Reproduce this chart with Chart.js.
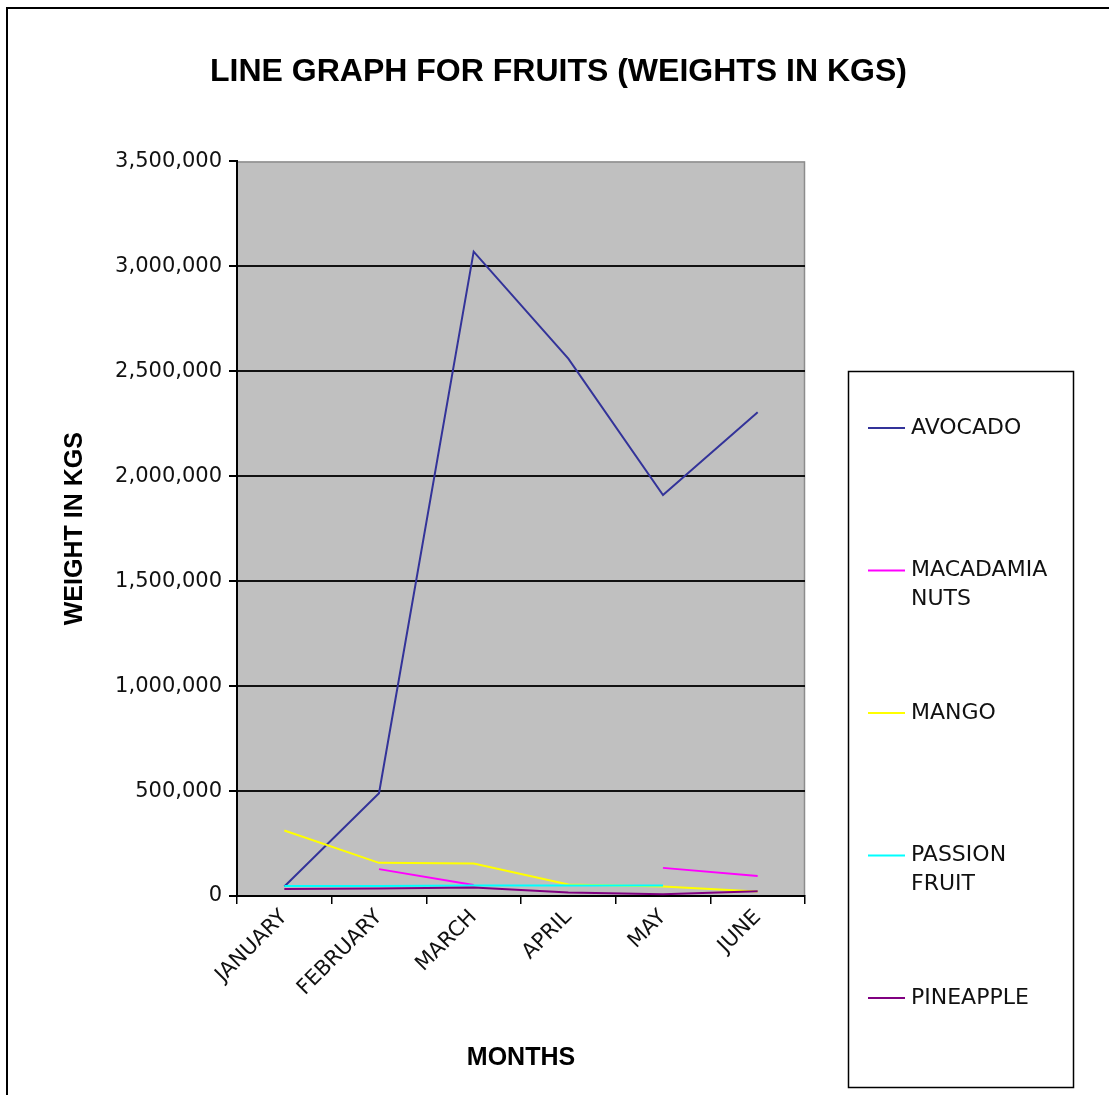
<!DOCTYPE html>
<html>
<head>
<meta charset="utf-8">
<title>Line graph for fruits</title>
<script src="https://cdn.jsdelivr.net/npm/chart.js@4/dist/chart.umd.min.js"></script>
<style>
  html, body { margin: 0; padding: 0; background: #fff; }
  #frame {
    position: absolute; left: 6px; top: 7px; right: -10px; bottom: -10px;
    border-left: 2px solid #000; border-top: 2px solid #000;
  }
  #chart { position: absolute; left: 0; top: 0; }
</style>
</head>
<body>
<div id="frame"></div>
<canvas id="chart" width="1109" height="1095"></canvas>
<script>
var months = ['JANUARY', 'FEBRUARY', 'MARCH', 'APRIL', 'MAY', 'JUNE'];

var avocado    = [45000, 490000, 3070000, 2560000, 1910000, 2305000];
var macadamia  = [null, 128000, 52000, null, 134000, 95000];
var mango      = [312000, 158000, 155000, 55000, 45000, 22000];
var passion    = [48000, 48000, 50000, 50000, 50000, null];
var pineapple  = [33000, 36000, 40000, 17000, 8000, 23000];

var seriesNames  = ['AVOCADO', 'MACADAMIA NUTS', 'MANGO', 'PASSION FRUIT', 'PINEAPPLE'];
var seriesValues = [avocado, macadamia, mango, passion, pineapple];
var seriesColors = ['#333399', '#ff00ff', '#ffff00', '#00ffff', '#800080'];

var yMax = 3500000;

var datasets = [];
for (var i = 0; i < seriesNames.length; i++) {
    datasets.push({
        label: seriesNames[i],
        data: seriesValues[i],
        borderColor: seriesColors[i],
        backgroundColor: seriesColors[i],
        borderWidth: 2,
        pointRadius: 0,
        tension: 0,
        spanGaps: false,
        order: seriesNames.length - i   // later series drawn on top, like Excel
    });
}

// gray plot area
var plotBackground = {
    id: 'plotBackground',
    beforeDraw: function(chart) {
        var a = chart.chartArea, ctx = chart.ctx;
        ctx.save();
        ctx.fillStyle = '#c0c0c0';
        ctx.fillRect(a.left, a.top, a.right - a.left, a.bottom - a.top);
        ctx.strokeStyle = '#8c8c8c';
        ctx.lineWidth = 1.5;
        ctx.beginPath();
        ctx.moveTo(a.left, a.top + 0.5);
        ctx.lineTo(a.right - 0.5, a.top + 0.5);
        ctx.lineTo(a.right - 0.5, a.bottom);
        ctx.stroke();
        ctx.restore();
    }
};

// boxed legend on the right, one entry per dataset
var boxLegend = {
    id: 'boxLegend',
    afterDraw: function(chart) {
        var ctx = chart.ctx;
        var box = {x: 848, y: 371, w: 225, h: 716};
        var firstRow = 57, rowGap = 142.5, lineGap = 29;
        ctx.save();
        ctx.strokeStyle = '#000';
        ctx.lineWidth = 1.5;
        ctx.strokeRect(box.x + 0.5, box.y + 0.5, box.w, box.h);
        ctx.font = '22px "DejaVu Sans"';
        ctx.textBaseline = 'middle';
        ctx.textAlign = 'left';
        var textX = box.x + 63, maxW = box.x + box.w - textX - 6;
        chart.data.datasets.forEach(function(ds, i) {
            var y = box.y + firstRow + i * rowGap;
            ctx.strokeStyle = ds.borderColor;
            ctx.lineWidth = 2;
            ctx.beginPath();
            ctx.moveTo(box.x + 20, y);
            ctx.lineTo(box.x + 57, y);
            ctx.stroke();
            // wrap long labels word by word
            var lines = [ds.label];
            if (ctx.measureText(ds.label).width > maxW) lines = ds.label.split(' ');
            ctx.fillStyle = '#111';
            lines.forEach(function(t, k) { ctx.fillText(t, textX, y + k * lineGap); });
        });
        ctx.restore();
    }
};

new Chart(document.getElementById('chart'), {
    type: 'line',
    data: { labels: months, datasets: datasets },
    plugins: [plotBackground, boxLegend],
    options: {
        responsive: false,
        animation: false,
        devicePixelRatio: 1,
        layout: { padding: { left: 8, top: 0, right: 0, bottom: 0 } },
        plugins: {
            legend: { display: false },
            tooltip: { enabled: false },
            title: {
                display: true,
                text: 'LINE GRAPH FOR FRUITS (WEIGHTS IN KGS)',
                color: '#000',
                font: { family: 'Liberation Sans', size: 32, weight: 'bold' },
                padding: { top: 53, bottom: 70 }
            }
        },
        scales: {
            x: {
                offset: true,
                grid: { offset: true, drawOnChartArea: false, drawTicks: true, tickLength: 8, color: '#000', lineWidth: 1.5 },
                border: { color: '#000', width: 2 },
                ticks: {
                    color: '#111', minRotation: 45, maxRotation: 45, padding: 1, autoSkip: false,
                    font: { family: 'DejaVu Sans', size: 21 }
                },
                title: {
                    display: true, text: 'MONTHS', color: '#000',
                    font: { family: 'Liberation Sans', size: 25, weight: 'bold' },
                    padding: { top: 0, bottom: 22 }
                },
                afterFit: function(scale) { scale.height = 199; }
            },
            y: {
                min: 0,
                max: yMax,
                grid: {
                    lineWidth: 2, tickLength: 8, tickColor: '#000',
                    color: function(c) { return c.tick && c.tick.value === yMax ? 'rgba(0,0,0,0)' : '#111'; }
                },
                border: { color: '#000', width: 2 },
                ticks: {
                    stepSize: 500000, color: '#111', padding: 7,
                    font: { family: 'DejaVu Sans', size: 21 },
                    callback: function(v) { return v.toLocaleString('en-US'); }
                },
                title: {
                    display: true, text: 'WEIGHT IN KGS', color: '#000',
                    font: { family: 'Liberation Sans', size: 25, weight: 'bold' },
                    padding: { top: 52, bottom: 0 }
                },
                afterFit: function(scale) { scale.width = 229; }
            },
            // empty strip on the right that holds the legend box
            legendSpace: {
                type: 'linear',
                position: 'right',
                grid: { display: false },
                border: { display: false },
                ticks: { display: false },
                afterFit: function(scale) { scale.width = 304; }
            }
        }
    }
});
</script>
</body>
</html>
